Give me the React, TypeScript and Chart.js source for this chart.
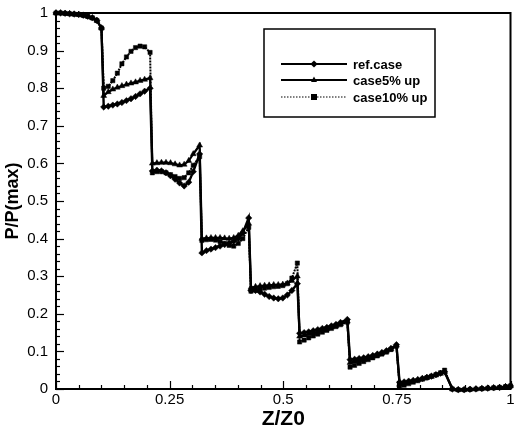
import React, { useEffect, useRef } from "react";
import { Chart, registerables } from "chart.js";

Chart.register(...registerables);

// Z/Z0 positions (shared by all three series)
const zPositions = [
  0, 0.01, 0.02, 0.03, 0.04, 0.05, 0.06, 0.07, 0.08, 0.09, 0.1,
  0.105, 0.115, 0.125, 0.135, 0.145, 0.155, 0.165, 0.175, 0.185, 0.195, 0.207,
  0.212, 0.222, 0.232, 0.242, 0.252, 0.262, 0.272, 0.282, 0.292, 0.302, 0.316,
  0.321, 0.331, 0.341, 0.351, 0.361, 0.371, 0.381, 0.391, 0.401, 0.411, 0.424,
  0.429, 0.439, 0.449, 0.459, 0.469, 0.479, 0.489, 0.499, 0.509, 0.519, 0.531,
  0.536, 0.546, 0.556, 0.566, 0.576, 0.586, 0.596, 0.606, 0.616, 0.626, 0.641,
  0.647, 0.657, 0.667, 0.677, 0.687, 0.697, 0.707, 0.717, 0.727, 0.737, 0.749,
  0.756, 0.766, 0.776, 0.786, 0.796, 0.806, 0.816, 0.826, 0.836, 0.846, 0.855,
  0.872, 0.885, 0.898, 0.911, 0.924, 0.937, 0.95, 0.963, 0.976, 0.989, 1.0,
];

const refCase = [
  1.0, 1.0, 0.999, 0.998, 0.997, 0.996, 0.994, 0.991, 0.987, 0.98, 0.96,
  0.75, 0.752, 0.755, 0.758, 0.762, 0.767, 0.772, 0.778, 0.785, 0.792, 0.8,
  0.58, 0.582, 0.58, 0.575, 0.567, 0.558, 0.548, 0.54, 0.55, 0.578, 0.625,
  0.362, 0.368, 0.372, 0.376, 0.38, 0.384, 0.388, 0.393, 0.4, 0.415, 0.455,
  0.262, 0.262, 0.258, 0.252, 0.246, 0.242, 0.24, 0.242, 0.25, 0.262, 0.28,
  0.148, 0.15, 0.152, 0.155, 0.158, 0.161, 0.164, 0.168, 0.172, 0.177, 0.185,
  0.078, 0.079, 0.081, 0.083, 0.086, 0.089, 0.093, 0.097, 0.102, 0.108, 0.118,
  0.018, 0.019, 0.021, 0.023, 0.025, 0.028, 0.031, 0.034, 0.038, 0.042, 0.046,
  0.0, -0.002, -0.002, -0.001, 0.0, 0.001, 0.002, 0.003, 0.004, 0.006, 0.008,
];

const case5Up = [
  1.0, 1.0, 0.999, 0.998, 0.997, 0.996, 0.994, 0.991, 0.987, 0.98, 0.96,
  0.78, 0.79, 0.797, 0.802, 0.806, 0.81, 0.813, 0.816, 0.82, 0.823, 0.827,
  0.6, 0.601, 0.602, 0.602, 0.601, 0.598, 0.595, 0.597, 0.607, 0.625, 0.648,
  0.4, 0.401, 0.402, 0.402, 0.402, 0.401, 0.4, 0.402, 0.408, 0.42, 0.44,
  0.27, 0.272, 0.274, 0.275, 0.276, 0.277, 0.277, 0.278, 0.281, 0.288, 0.3,
  0.14, 0.143, 0.146, 0.149, 0.152, 0.156, 0.16, 0.164, 0.168, 0.173, 0.18,
  0.07, 0.073, 0.076, 0.079, 0.083, 0.087, 0.091, 0.095, 0.1, 0.106, 0.116,
  0.012, 0.015, 0.018, 0.021, 0.024, 0.027, 0.03, 0.033, 0.037, 0.041, 0.046,
  0.0, -0.002, -0.002, -0.001, 0.0, 0.001, 0.002, 0.003, 0.004, 0.006, 0.008,
];

const case10Up = [
  1.0, 1.0, 0.999, 0.998, 0.997, 0.996, 0.994, 0.991, 0.987, 0.98, 0.96,
  0.8, 0.805, 0.82, 0.84, 0.865, 0.883, 0.898, 0.908, 0.912, 0.91, 0.895,
  0.575, 0.578, 0.578, 0.575, 0.57, 0.565, 0.56, 0.562, 0.575, 0.595, 0.618,
  0.395, 0.397, 0.398, 0.396, 0.392, 0.387, 0.382, 0.38, 0.387, 0.4, 0.43,
  0.26, 0.263, 0.266, 0.268, 0.27, 0.272, 0.273, 0.275, 0.28, 0.295, 0.335,
  0.125, 0.13, 0.136, 0.141, 0.146, 0.151, 0.156, 0.161, 0.166, 0.171, 0.178,
  0.058, 0.063, 0.068, 0.073, 0.078, 0.083, 0.088, 0.093, 0.098, 0.105, 0.114,
  0.006, 0.01, 0.014, 0.018, 0.022, 0.026, 0.03, 0.034, 0.038, 0.043, 0.05,
  0.0, -0.002, -0.002, -0.001, 0.0, 0.001, 0.002, 0.003, 0.004, 0.006, 0.008,
];

const seriesLabels = ["ref.case", "case5% up", "case10% up"];
const xTickValues = [0, 0.25, 0.5, 0.75, 1];
const xTickLabels = ["0", "0.25", "0.5", "0.75", "1"];
const yTickValues = [0, 0.1, 0.2, 0.3, 0.4, 0.5, 0.6, 0.7, 0.8, 0.9, 1];
const yTickLabels = ["0", "0.1", "0.2", "0.3", "0.4", "0.5", "0.6", "0.7", "0.8", "0.9", "1"];

const FONT = "'Liberation Sans', Arial, sans-serif";

function drawMarker(ctx: CanvasRenderingContext2D, style: string, x: number, y: number, r: number) {
  ctx.beginPath();
  if (style === "rectRot") {
    ctx.moveTo(x, y - r * 1.2);
    ctx.lineTo(x + r * 1.2, y);
    ctx.lineTo(x, y + r * 1.2);
    ctx.lineTo(x - r * 1.2, y);
  } else if (style === "triangle") {
    ctx.moveTo(x, y - r * 1.2);
    ctx.lineTo(x + r, y + r * 0.7);
    ctx.lineTo(x - r, y + r * 0.7);
  } else {
    ctx.rect(x - r, y - r, 2 * r, 2 * r);
  }
  ctx.closePath();
  ctx.fill();
}

const framePlugin = {
  id: "frameTicksLegend",
  afterDatasetsDraw(chart: any) {
    const { ctx, chartArea, scales } = chart;
    const { left, right, top, bottom } = chartArea;
    const xs = scales.x;
    const ys = scales.y;
    ctx.save();
    ctx.strokeStyle = "#000";
    ctx.lineWidth = 1.2;
    // inward ticks on bottom axis: major 0.25, minor 0.05
    for (let i = 0; i <= 20; i++) {
      const px = Math.round(xs.getPixelForValue(i * 0.05)) + 0.5;
      const len = i % 5 === 0 ? 8 : 4;
      ctx.beginPath();
      ctx.moveTo(px, bottom);
      ctx.lineTo(px, bottom - len);
      ctx.stroke();
    }
    // inward ticks on left axis: major 0.1, minor 0.02
    for (let i = 0; i <= 50; i++) {
      const py = Math.round(ys.getPixelForValue(i * 0.02)) + 0.5;
      const len = i % 5 === 0 ? 8 : 4;
      ctx.beginPath();
      ctx.moveTo(left, py);
      ctx.lineTo(left + len, py);
      ctx.stroke();
    }
    // frame
    ctx.lineWidth = 2;
    ctx.strokeRect(left, top, right - left, bottom - top);

    // legend box
    const bx = 264, by = 29, bw = 171, bh = 88;
    ctx.fillStyle = "#fff";
    ctx.fillRect(bx, by, bw, bh);
    ctx.lineWidth = 1.5;
    ctx.strokeRect(bx, by, bw, bh);
    const rowsY = [64, 80, 97];
    chart.data.datasets.forEach((ds: any, i: number) => {
      const y = rowsY[i];
      ctx.strokeStyle = "#000";
      ctx.fillStyle = "#000";
      ctx.lineWidth = i === 2 ? 1.2 : 2;
      ctx.setLineDash(i === 2 ? [1.5, 1.5] : []);
      ctx.beginPath();
      ctx.moveTo(281, y);
      ctx.lineTo(347, y);
      ctx.stroke();
      ctx.setLineDash([]);
      drawMarker(ctx, ds.pointStyle, 314, y, 3);
      ctx.font = `bold 13px ${FONT}`;
      ctx.textBaseline = "middle";
      ctx.textAlign = "left";
      ctx.fillText(ds.label, 353, y + 1);
    });
    ctx.restore();
  },
};

export default function App() {
  const canvasRef = useRef<HTMLCanvasElement | null>(null);

  useEffect(() => {
    const canvas = canvasRef.current;
    if (!canvas) return;
    const mk = (ys: number[]) => zPositions.map((z, i) => ({ x: z, y: ys[i] }));
    const common = {
      borderColor: "#000",
      backgroundColor: "#000",
      pointBackgroundColor: "#000",
      pointBorderColor: "#000",
      pointBorderWidth: 0.5,
      tension: 0,
      clip: 8,
    };
    const chart = new Chart(canvas, {
      type: "line",
      data: {
        datasets: [
          { ...common, label: seriesLabels[0], data: mk(refCase), borderWidth: 2.4, pointStyle: "rectRot", pointRadius: 3.2 },
          { ...common, label: seriesLabels[1], data: mk(case5Up), borderWidth: 2.2, pointStyle: "triangle", pointRadius: 3.4 },
          { ...common, label: seriesLabels[2], data: mk(case10Up), borderWidth: 2, borderDash: [2, 1], pointStyle: "rect", pointRadius: 3 },
        ] as any,
      },
      options: {
        animation: false,
        responsive: false,
        devicePixelRatio: 1,
        layout: { padding: { top: 13, right: 2, left: 0, bottom: 0 } },
        plugins: { legend: { display: false }, tooltip: { enabled: false } },
        scales: {
          x: {
            type: "linear",
            min: 0,
            max: 1,
            grid: { display: false, drawTicks: false },
            border: { display: false },
            afterBuildTicks: (scale: any) => {
              scale.ticks = xTickValues.map((v) => ({ value: v }));
            },
            afterFit: (scale: any) => {
              scale.height = 41;
              scale.paddingLeft = 0;
              scale.paddingRight = 0;
            },
            ticks: {
              color: "#000",
              font: { family: FONT, size: 15 },
              padding: 2,
              maxRotation: 0,
              autoSkip: false,
              callback: (v: any) => xTickLabels[xTickValues.indexOf(Number(v))] ?? "",
            },
            title: {
              display: true,
              text: "Z/Z0",
              color: "#000",
              font: { family: FONT, size: 21, weight: "bold", lineHeight: 1 },
              padding: { top: 0, bottom: 0 },
            },
          },
          y: {
            type: "linear",
            min: 0,
            max: 1,
            grid: { display: false, drawTicks: false },
            border: { display: false },
            afterBuildTicks: (scale: any) => {
              scale.ticks = yTickValues.map((v) => ({ value: v }));
            },
            afterFit: (scale: any) => {
              scale.width = 56;
              scale.paddingTop = 0;
              scale.paddingBottom = 0;
            },
            ticks: {
              color: "#000",
              font: { family: FONT, size: 15 },
              padding: 8,
              autoSkip: false,
              callback: (v: any) => yTickLabels[yTickValues.indexOf(Number(v))] ?? "",
            },
            title: {
              display: true,
              text: "P/P(max)",
              color: "#000",
              font: { family: FONT, size: 18, weight: "bold" },
              padding: { top: 2, bottom: 0 },
            },
          },
        },
      } as any,
      plugins: [framePlugin],
    });
    return () => chart.destroy();
  }, []);

  return (
    <div style={{ position: "fixed", left: 0, top: 0, width: 515, height: 430, background: "#fff" }}>
      <canvas ref={canvasRef} width={515} height={430} />
    </div>
  );
}
